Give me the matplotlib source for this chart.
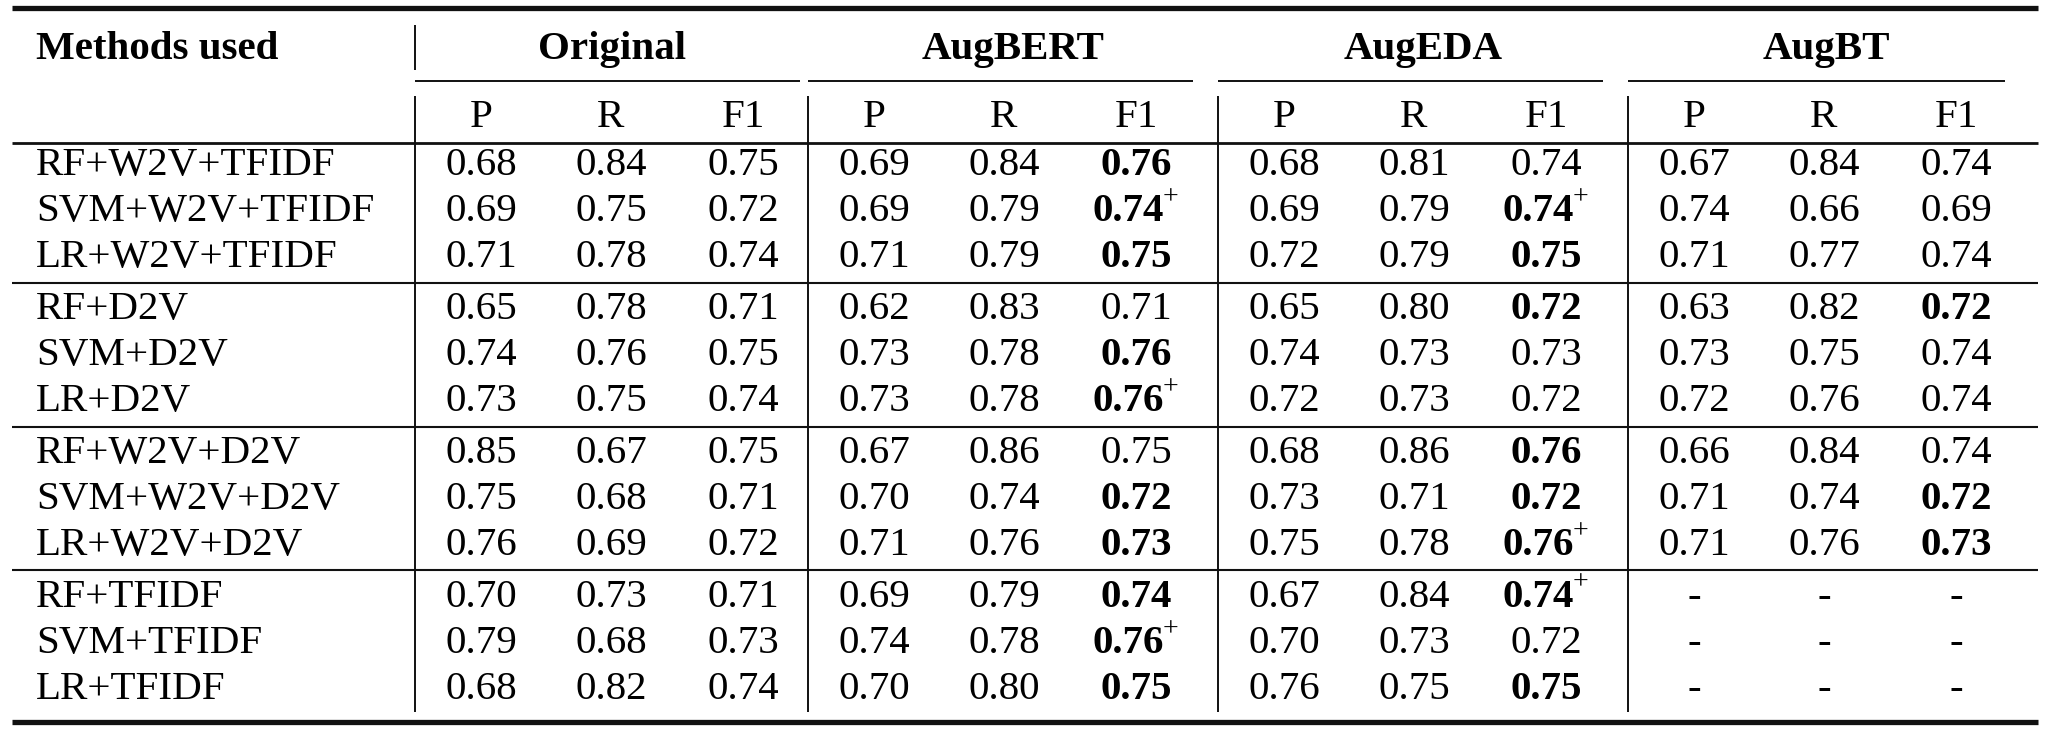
import matplotlib.pyplot as plt

plt.rcParams['font.family'] = ['Liberation Serif', 'DejaVu Serif']

methods = ["RF+W2V+TFIDF", "SVM+W2V+TFIDF", "LR+W2V+TFIDF",
           "RF+D2V", "SVM+D2V", "LR+D2V",
           "RF+W2V+D2V", "SVM+W2V+D2V", "LR+W2V+D2V",
           "RF+TFIDF", "SVM+TFIDF", "LR+TFIDF"]
groups = ["Original", "AugBERT", "AugEDA", "AugBT"]
metrics = ["P", "R", "F1"]

# P, R, F1 per method
original = [[0.68, 0.84, 0.75], [0.69, 0.75, 0.72], [0.71, 0.78, 0.74],
            [0.65, 0.78, 0.71], [0.74, 0.76, 0.75], [0.73, 0.75, 0.74],
            [0.85, 0.67, 0.75], [0.75, 0.68, 0.71], [0.76, 0.69, 0.72],
            [0.70, 0.73, 0.71], [0.79, 0.68, 0.73], [0.68, 0.82, 0.74]]
aug_bert = [[0.69, 0.84, 0.76], [0.69, 0.79, 0.74], [0.71, 0.79, 0.75],
            [0.62, 0.83, 0.71], [0.73, 0.78, 0.76], [0.73, 0.78, 0.76],
            [0.67, 0.86, 0.75], [0.70, 0.74, 0.72], [0.71, 0.76, 0.73],
            [0.69, 0.79, 0.74], [0.74, 0.78, 0.76], [0.70, 0.80, 0.75]]
aug_eda = [[0.68, 0.81, 0.74], [0.69, 0.79, 0.74], [0.72, 0.79, 0.75],
           [0.65, 0.80, 0.72], [0.74, 0.73, 0.73], [0.72, 0.73, 0.72],
           [0.68, 0.86, 0.76], [0.73, 0.71, 0.72], [0.75, 0.78, 0.76],
           [0.67, 0.84, 0.74], [0.70, 0.73, 0.72], [0.76, 0.75, 0.75]]
aug_bt = [[0.67, 0.84, 0.74], [0.74, 0.66, 0.69], [0.71, 0.77, 0.74],
          [0.63, 0.82, 0.72], [0.73, 0.75, 0.74], [0.72, 0.76, 0.74],
          [0.66, 0.84, 0.74], [0.71, 0.74, 0.72], [0.71, 0.76, 0.73],
          [None, None, None], [None, None, None], [None, None, None]]

# F1 marks: "b" = bold, "b+" = bold with superscript +
orig_mark = [""] * 12
bert_mark = ["b", "b+", "b", "", "b", "b+", "", "b", "b", "b", "b+", "b"]
eda_mark = ["", "b+", "b", "b", "", "", "b", "b", "b+", "b+", "", "b"]
bt_mark = ["", "", "", "b", "", "", "", "b", "b", "", "", ""]

tables = [original, aug_bert, aug_eda, aug_bt]
marks = [orig_mark, bert_mark, eda_mark, bt_mark]

W, H = 2054, 734
fig = plt.figure(figsize=(W / 100, H / 100), dpi=100, facecolor="white")
ax = fig.add_axes([0, 0, 1, 1])
ax.set_xlim(0, W)
ax.set_ylim(H, 0)
ax.axis("off")

FS = 29.5
EM = FS * 100 / 72
BASE = 0.338 * EM  # half digit height -> baseline offset
ink = "#111111"

group_left = [415, 808, 1218, 1628]
group_ctr = [612, 1013, 1423, 1826]
col_off = [66, 196, 328]
x_left, x_right = 12, 2038

def row_y(i):
    return 161 + 46.3 * i + 5 * (i // 3)

def hline(y, x0, x1, lw):
    ax.plot([x0, x1], [y, y], color=ink, lw=lw, solid_capstyle="butt")

def vline(x, y0, y1, lw=1.4):
    ax.plot([x, x], [y0, y1], color=ink, lw=lw, solid_capstyle="butt")

# rules
hline(8, x_left, x_right, 3.8)
hline(143, x_left, x_right, 2.0)
for g in range(1, 4):
    hline(row_y(3 * g - 1) + 29, x_left, x_right, 1.5)
hline(722, x_left, x_right, 3.8)
for gl in group_left:
    hline(81, gl, gl + 385 - (8 if gl == 1628 else 0), 1.4)

vline(415, 25, 70)
for gl in group_left:
    vline(gl, 96, 712)

# header
ax.text(36, 45 + 0.331 * EM, "Methods used", fontsize=FS, fontweight="bold",
        ha="left", va="baseline")
for gc, name in zip(group_ctr, groups):
    ax.text(gc, 45 + 0.331 * EM, name, fontsize=FS, fontweight="bold",
            ha="center", va="baseline")
for gl in group_left:
    for off, m in zip(col_off, metrics):
        ax.text(gl + off, 113 + 0.331 * EM, m, fontsize=FS,
                ha="center", va="baseline")

renderer = fig.canvas.get_renderer()
plus_cells = []

for i, name in enumerate(methods):
    y = row_y(i) + BASE
    ax.text(36, y, name, fontsize=FS, ha="left", va="baseline")
    for gl, tab, mk in zip(group_left, tables, marks):
        for j in range(3):
            v = tab[i][j]
            cx = gl + col_off[j]
            if v is None:
                ax.text(cx, y, "-", fontsize=FS, ha="center", va="baseline")
                continue
            s = f"{v:.2f}"
            m = mk[i] if j == 2 else ""
            if m == "b+":
                t = ax.text(cx, y, s, fontsize=FS, fontweight="bold",
                            ha="left", va="baseline")
                p = ax.text(cx, row_y(i) - 3, "+", fontsize=FS * 0.68,
                            ha="left", va="baseline")
                plus_cells.append((t, p, cx))
            else:
                ax.text(cx, y, s, fontsize=FS,
                        fontweight="bold" if m == "b" else "normal",
                        ha="center", va="baseline")

# center number + superscript together
for t, p, cx in plus_cells:
    wn = t.get_window_extent(renderer=renderer).width
    wp = p.get_window_extent(renderer=renderer).width
    x0 = cx - (wn + wp) / 2
    t.set_x(x0)
    p.set_x(x0 + wn - 1)

fig.savefig("out.png", dpi=100, facecolor="white")
